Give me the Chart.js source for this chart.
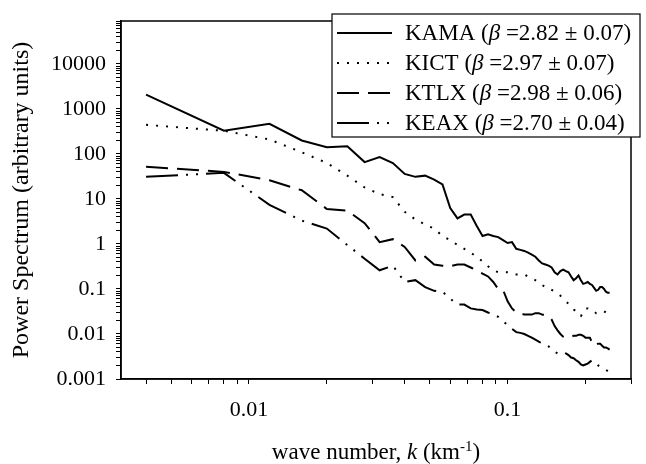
<!DOCTYPE html>
<html lang="en">
<head>
    <meta charset="UTF-8">
    <title>Power spectrum vs wave number</title>
    <script src="https://cdn.jsdelivr.net/npm/chart.js"></script>
    <style>
        body { margin: 0; background: #fff; }
        canvas { display: block; }
    </style>
</head>
<body>
    <canvas id="spectrumChart" width="646" height="464"></canvas>

    <script>
        // wave number k (km^-1)
        const waveNumbers = [
            0.004, 0.008, 0.012, 0.016, 0.020, 0.024, 0.028, 0.032, 0.036, 0.040,
            0.044, 0.048, 0.052, 0.056, 0.060, 0.064, 0.068, 0.072, 0.076, 0.080,
            0.084, 0.088, 0.092, 0.096, 0.100, 0.104, 0.108, 0.112, 0.116, 0.120,
            0.124, 0.128, 0.132, 0.136, 0.140, 0.144, 0.148, 0.152, 0.156, 0.160,
            0.164, 0.168, 0.172, 0.176, 0.180, 0.184, 0.188, 0.192, 0.196, 0.200,
            0.204, 0.208, 0.212, 0.216, 0.220, 0.224, 0.228, 0.232, 0.236, 0.240,
            0.244, 0.248
        ];

        // power spectrum of each radar (arbitrary units)
        const kamaPower = [
            2080, 330, 466, 199, 141, 148, 66, 85, 63, 36,
            31, 33, 27, 21, 6.3, 3.7, 4.5, 4.5, 2.5, 1.5,
            1.65, 1.5, 1.42, 1.22, 1.05, 1.1, 0.78, 0.74, 0.70, 0.64,
            0.58, 0.52, 0.43, 0.37, 0.35, 0.33, 0.30, 0.235, 0.21, 0.25,
            0.27, 0.25, 0.235, 0.19, 0.157, 0.174, 0.20, 0.157, 0.13, 0.135,
            0.143, 0.13, 0.123, 0.106, 0.091, 0.096, 0.11, 0.11, 0.10, 0.087,
            0.082, 0.082
        ];
        const kictPower = [
            443, 328, 210, 109, 63, 33, 18, 12.8, 11, 5.2,
            3.5, 2.7, 2.2, 1.5, 1.22, 0.95, 0.78, 0.64, 0.52, 0.41,
            0.32, 0.26, 0.235, 0.235, 0.235, 0.22, 0.21, 0.21, 0.21, 0.19,
            0.174, 0.157, 0.143, 0.123, 0.11, 0.106, 0.096, 0.087, 0.078, 0.071,
            0.061, 0.053, 0.047, 0.041, 0.035, 0.032, 0.026, 0.025, 0.030, 0.037,
            0.037, 0.035, 0.035, 0.032, 0.029, 0.029, 0.030, 0.032, 0.032, 0.030,
            0.029, 0.027
        ];
        const ktlxPower = [
            52, 40, 26, 15.6, 6.0, 5.5, 2.9, 1.1, 1.28, 0.86,
            0.43, 0.52, 0.35, 0.33, 0.32, 0.35, 0.35, 0.30, 0.26, 0.22,
            0.19, 0.143, 0.10, 0.096, 0.053, 0.037, 0.030, 0.029, 0.027, 0.027,
            0.027, 0.029, 0.029, 0.027, 0.026, 0.025, 0.021, 0.015, 0.012, 0.010,
            0.0087, 0.0083, 0.0083, 0.0087, 0.0091, 0.0091, 0.0096, 0.0096, 0.0091, 0.0083,
            0.0083, 0.0083, 0.0065, 0.0055, 0.0058, 0.0061, 0.0061, 0.0055, 0.005, 0.005,
            0.0048, 0.0045
        ];
        const keaxPower = [
            31, 38, 7.4, 3.3, 2.2, 0.95, 0.47, 0.26, 0.33, 0.143,
            0.157, 0.11, 0.091, 0.087, 0.061, 0.045, 0.045, 0.037, 0.035, 0.034,
            0.030, 0.027, 0.024, 0.019, 0.016, 0.013, 0.011, 0.0106, 0.010, 0.0091,
            0.0083, 0.0075, 0.0068, 0.0061, 0.0058, 0.0053, 0.0045, 0.0041, 0.0037, 0.0037,
            0.0039, 0.0037, 0.0034, 0.003, 0.0029, 0.0026, 0.0024, 0.0021, 0.002, 0.0021,
            0.0022, 0.0024, 0.0026, 0.0025, 0.0022, 0.002, 0.0019, 0.0018, 0.0017, 0.0016,
            0.0015, 0.0014
        ];

        // legend: station, spectral slope and its error
        const stations = ['KAMA', 'KICT', 'KTLX', 'KEAX'];
        const betaValues = ['2.82', '2.97', '2.98', '2.70'];
        const betaErrors = ['0.07', '0.07', '0.06', '0.04'];

        // labelled (decade) ticks
        const xTickValues = [0.01, 0.1];
        const xTickLabels = ['0.01', '0.1'];
        const yTickValues = [0.001, 0.01, 0.1, 1, 10, 100, 1000, 10000];
        const yTickLabels = ['0.001', '0.01', '0.1', '1', '10', '100', '1000', '10000'];

        const serif = '"Liberation Serif", "Times New Roman", serif';
        const seriesPower = [kamaPower, kictPower, ktlxPower, keaxPower];
        const dashes = [[], [2, 8], [22, 9], [32, 8, 2, 8, 2, 8]];

        // 1..9 x 10^n ticks between min and max
        function logTicks(min, max) {
            const out = [];
            for (let e = Math.floor(Math.log10(min)); e <= Math.ceil(Math.log10(max)); e++) {
                for (let m = 1; m < 10; m++) {
                    const v = parseFloat((m * Math.pow(10, e)).toPrecision(6));
                    if (v >= min * 0.9999 && v <= max * 1.0001) out.push({ value: v });
                }
            }
            return out;
        }

        function labelFor(values, labels, value) {
            const i = values.findIndex(v => Math.abs(v - value) / v < 1e-6);
            return i >= 0 ? labels[i] : '';
        }

        // draw text made of pieces with different fonts
        function drawRuns(ctx, runs, x, y, align) {
            let total = 0;
            runs.forEach(r => { ctx.font = r[1]; total += ctx.measureText(r[0]).width; });
            let cx = align === 'center' ? x - total / 2 : x;
            runs.forEach(r => {
                ctx.font = r[1];
                ctx.fillText(r[0], cx, y + (r[2] || 0));
                cx += ctx.measureText(r[0]).width;
            });
        }

        const decorations = {
            id: 'decorations',
            afterDraw(chart) {
                const ctx = chart.ctx;
                const a = chart.chartArea;
                const legendFont = '23px ' + serif;
                const legendItalic = 'italic 23px ' + serif;
                const small = '15px ' + serif;
                ctx.save();
                ctx.fillStyle = '#000';
                ctx.strokeStyle = '#000';

                // frame round the plot
                ctx.lineWidth = 1.5;
                ctx.setLineDash([]);
                ctx.strokeRect(a.left, a.top, a.right - a.left, a.bottom - a.top);

                // legend box
                const lx = 332, ly = 14, lw = 308, lh = 123;
                ctx.fillStyle = '#fff';
                ctx.fillRect(lx, ly, lw, lh);
                ctx.fillStyle = '#000';
                ctx.lineWidth = 1.2;
                ctx.strokeRect(lx, ly, lw, lh);
                ctx.textBaseline = 'alphabetic';
                ctx.textAlign = 'left';
                chart.data.datasets.forEach((ds, i) => {
                    const cy = 33 + i * 30;
                    ctx.lineWidth = 2;
                    ctx.setLineDash(ds.borderDash);
                    ctx.beginPath();
                    ctx.moveTo(337, cy);
                    ctx.lineTo(392, cy);
                    ctx.stroke();
                    ctx.setLineDash([]);
                    drawRuns(ctx, [
                        [stations[i] + ' (', legendFont],
                        ['\u03B2', legendItalic],
                        [' =' + betaValues[i] + ' \u00B1 ' + betaErrors[i] + ')', legendFont]
                    ], 405, cy + 7, 'left');
                });

                // x axis title
                drawRuns(ctx, [
                    ['wave number, ', legendFont],
                    ['k', legendItalic],
                    [' (km', legendFont],
                    ['-1', small, -8],
                    [')', legendFont]
                ], (a.left + a.right) / 2, 459, 'center');

                // y axis title
                ctx.translate(28, (a.top + a.bottom) / 2);
                ctx.rotate(-Math.PI / 2);
                ctx.textAlign = 'center';
                ctx.font = '24px ' + serif;
                ctx.fillText('Power Spectrum (arbitrary units)', 0, 0);
                ctx.restore();
            }
        };

        const ctx = document.getElementById('spectrumChart').getContext('2d');
        const chart = new Chart(ctx, {
            type: 'line',
            data: {
                datasets: stations.map((name, i) => ({
                    label: name,
                    data: waveNumbers.map((k, j) => ({ x: k, y: seriesPower[i][j] })),
                    borderColor: '#000',
                    borderWidth: 2,
                    borderDash: dashes[i],
                    pointRadius: 0,
                    fill: false,
                    tension: 0
                }))
            },
            options: {
                responsive: false,
                animation: false,
                devicePixelRatio: 1,
                layout: { padding: { top: 12, right: 5, left: 0, bottom: 0 } },
                plugins: {
                    legend: { display: false },
                    tooltip: { enabled: false }
                },
                scales: {
                    x: {
                        type: 'logarithmic',
                        min: 0.0032,
                        max: 0.3,
                        afterFit: scale => { scale.height = 85; },
                        afterBuildTicks: scale => { scale.ticks = logTicks(scale.min, scale.max); },
                        border: { display: true, color: '#000', width: 1.5 },
                        grid: { display: true, drawOnChartArea: false, drawTicks: true, tickLength: 5, color: '#000' },
                        ticks: {
                            autoSkip: false,
                            maxRotation: 0,
                            padding: 15,
                            color: '#000',
                            font: { family: serif, size: 22, lineHeight: 1 },
                            callback: value => labelFor(xTickValues, xTickLabels, value)
                        }
                    },
                    y: {
                        type: 'logarithmic',
                        min: 0.001,
                        max: 90000,
                        afterFit: scale => { scale.width = 121; },
                        afterBuildTicks: scale => { scale.ticks = logTicks(scale.min, scale.max); },
                        border: { display: true, color: '#000', width: 1.5 },
                        grid: { display: true, drawOnChartArea: false, drawTicks: true, tickLength: 5, color: '#000' },
                        ticks: {
                            autoSkip: false,
                            padding: 10,
                            color: '#000',
                            font: { family: serif, size: 22, lineHeight: 1 },
                            callback: value => labelFor(yTickValues, yTickLabels, value)
                        }
                    }
                }
            },
            plugins: [decorations]
        });
    </script>
</body>
</html>
